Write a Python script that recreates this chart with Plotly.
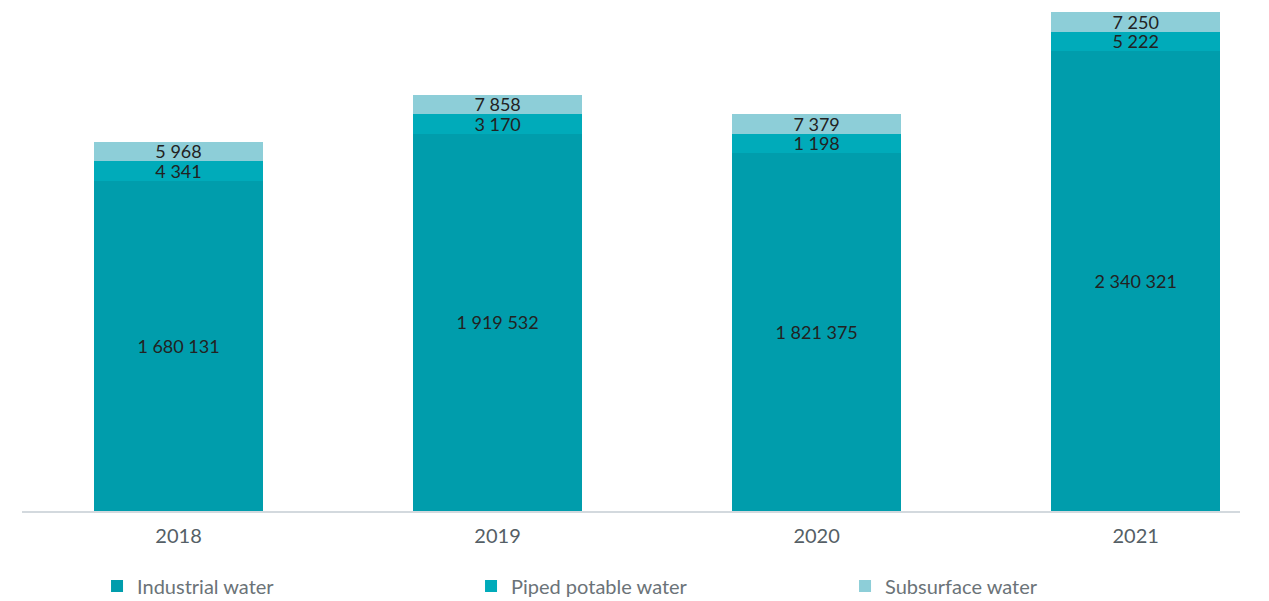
import plotly.graph_objects as go

years = ["2018", "2019", "2020", "2021"]
industrial = [1680131, 1919532, 1821375, 2340321]
piped = [4341, 3170, 1198, 5222]
subsurface = [5968, 7858, 7379, 7250]

# the small segments are drawn with a minimum visible height, as in the original
MIN_SEGMENT = 100000


def fmt(v):
    return f"{v:,}".replace(",", " ")


def visible(vals):
    return [max(v, MIN_SEGMENT) for v in vals]


series = [
    ("Industrial water", industrial, "#009dac"),
    ("Piped potable water", piped, "#00abba"),
    ("Subsurface water", subsurface, "#8dced8"),
]

fig = go.Figure()
for name, vals, color in series:
    fig.add_trace(go.Bar(
        x=years, y=visible(vals), name=name,
        marker=dict(color=color, line=dict(width=0)),
        text=[fmt(v) for v in vals], textposition="inside",
        insidetextanchor="middle", textangle=0,
        textfont=dict(family="Lato, sans-serif", size=18, color="#222222"),
        customdata=vals, hovertemplate="%{x}: %{customdata:,}<extra>" + name + "</extra>",
        width=0.53,
    ))

# page body adds 8px margin, so the figure is a bit smaller than the window
fig.update_layout(
    barmode="stack",
    width=1261, height=593,
    margin=dict(l=14, r=29, t=2, b=90),
    plot_bgcolor="white", paper_bgcolor="white",
    font=dict(family="Lato, sans-serif", color="#5b666d"),
    uniformtext=dict(minsize=18, mode="show"),
    legend=dict(
        orientation="h", xref="container", yref="container",
        x=0.0706, y=0.0253, xanchor="left", yanchor="middle",
        entrywidth=329, entrywidthmode="pixels",
        font=dict(size=20, color="#6b7378"), traceorder="normal",
    ),
    showlegend=True,
)
fig.update_xaxes(
    type="category", range=[-0.4906, 3.327],
    showline=True, linecolor="#d3d9de", linewidth=2,
    showgrid=False, ticks="", ticklabelstandoff=6,
    tickfont=dict(size=20, color="#555f66"),
)
fig.update_yaxes(visible=False, range=[0, 2550000], showgrid=False)

fig.write_html("out.html")
